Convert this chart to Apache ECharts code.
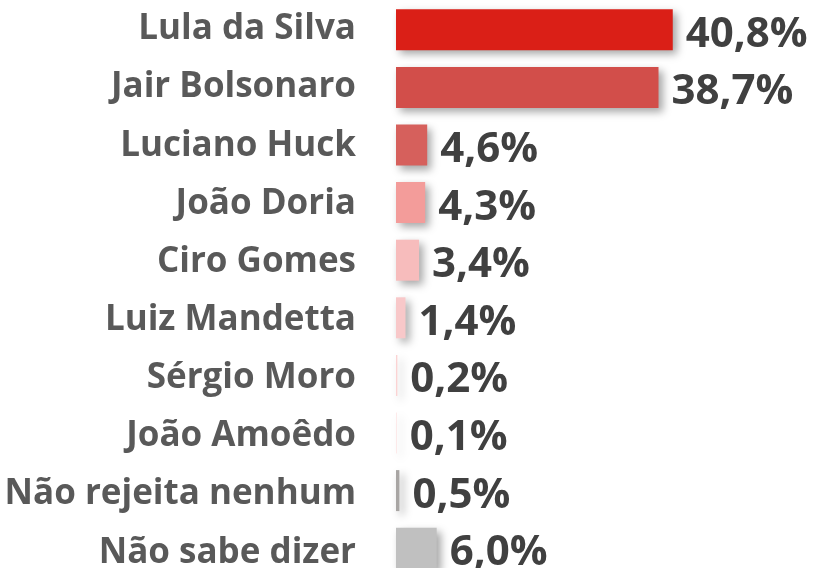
<!DOCTYPE html>
<html>
<head>
<meta charset="utf-8">
<script src="https://cdn.jsdelivr.net/npm/echarts@6/dist/echarts.min.js"></script>
<style>html,body{margin:0;padding:0;background:#fff}#c{width:813px;height:568px}</style>
</head>
<body>
<div id="c"></div>
<script>
const categories = ["Lula da Silva","Jair Bolsonaro","Luciano Huck","João Doria","Ciro Gomes","Luiz Mandetta","Sérgio Moro","João Amoêdo","Não rejeita nenhum","Não sabe dizer"];
const values = [40.8, 38.7, 4.6, 4.3, 3.4, 1.4, 0.2, 0.1, 0.5, 6.0];
const barColors = ["#da1f17","#d24e4a","#d6605c","#f39c9a","#f7bcbc","#f8c8c9","#fbd3d3","#fde0e0","#a8a5a3","#c0c0c0"];

const chart = echarts.init(document.getElementById('c'));
chart.setOption({
  animation: false,
  grid: [
    {left: 396, top: 1, width: 407, height: 576, containLabel: false, outerBoundsMode: 'none'},
    {left: 396, top: 0.3, width: 407, height: 581.4, containLabel: false, outerBoundsMode: 'none'}
  ],
  xAxis: [
    {type: 'value', min: 0, max: 60, show: false, gridIndex: 0},
    {type: 'value', min: 0, max: 60, show: false, gridIndex: 1}
  ],
  yAxis: [
    {
      type: 'category', data: categories, inverse: true, gridIndex: 0,
      axisLine: {show: false}, axisTick: {show: false}, splitLine: {show: false},
      axisLabel: {show: false}
    },
    {
      type: 'category', data: categories, inverse: true, gridIndex: 1,
      axisLine: {show: false}, axisTick: {show: false}, splitLine: {show: false},
      axisLabel: {margin: 40, color: '#595959', fontFamily: 'Open Sans', fontWeight: 'bold', fontSize: 35}
    }
  ],
  series: [{
    type: 'bar',
    xAxisIndex: 0, yAxisIndex: 0,
    barWidth: 41,
    data: values.map((v, i) => ({
      value: v,
      itemStyle: {color: barColors[i]}
    })),
    itemStyle: {shadowColor: 'rgba(0,0,0,0.35)', shadowBlur: 8, shadowOffsetX: 4, shadowOffsetY: 4},
    label: {
      show: true, position: 'right', distance: 13, offset: [0, 5],
      color: '#404040', fontFamily: 'Open Sans', fontWeight: 'bold', fontSize: 42,
      formatter: p => p.value.toFixed(1).replace('.', ',') + '%'
    }
  }]
});
</script>
</body>
</html>
